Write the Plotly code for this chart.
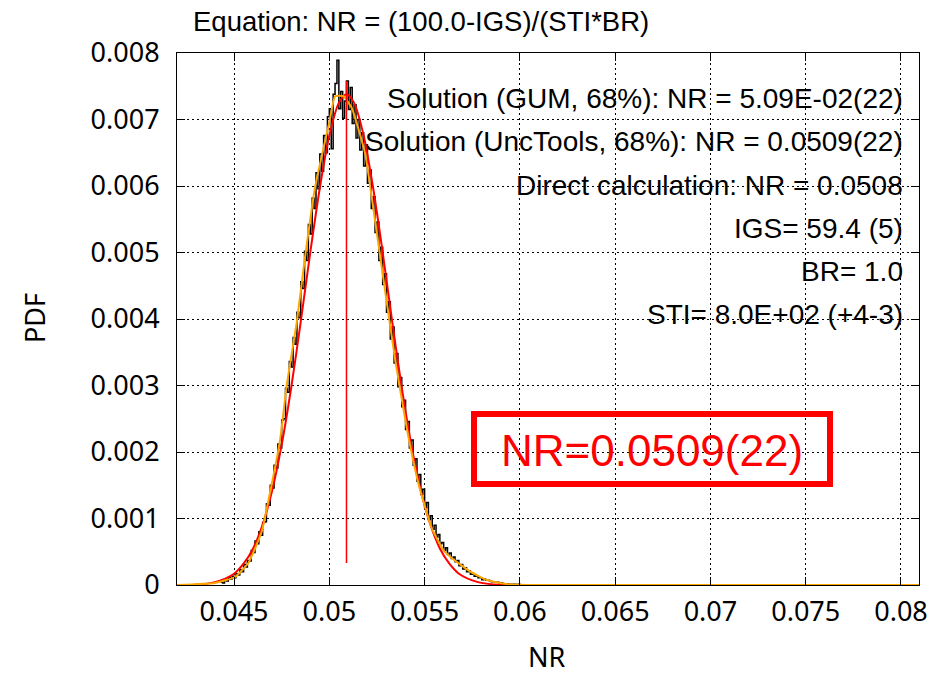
import plotly.graph_objects as go

# ---------------- data ----------------
# Monte-Carlo histogram of NR (bin centres, step 0.0001 starting at 0.0443)
NR_BIN_START = 0.0443
NR_BIN_STEP = 0.0001
MC_PDF = [
    0.00004, 0.00003, 0.00007, 0.00006, 0.00011, 0.00009, 0.00013, 0.00011, 0.00017, 0.00015,
    0.00023, 0.00020, 0.00031, 0.00027, 0.00037, 0.00036, 0.00052, 0.00049, 0.00066, 0.00062,
    0.00080, 0.00075, 0.00094, 0.00095, 0.00122, 0.00120, 0.00150, 0.00146, 0.00180, 0.00176,
    0.00212, 0.00206, 0.00248, 0.00250, 0.00296, 0.00290, 0.00336, 0.00328, 0.00372, 0.00362,
    0.00410, 0.00402, 0.00456, 0.00446, 0.00502, 0.00488, 0.00542, 0.00528, 0.00582, 0.00566,
    0.00620, 0.00596, 0.00648, 0.00622, 0.00676, 0.00650, 0.00704, 0.00716, 0.00656, 0.00738,
    0.00754, 0.00789, 0.00716, 0.00742, 0.00702, 0.00728, 0.00758, 0.00715, 0.00748, 0.00694,
    0.00722, 0.00672, 0.00700, 0.00654, 0.00680, 0.00630, 0.00662, 0.00604, 0.00624, 0.00566,
    0.00584, 0.00530, 0.00546, 0.00488, 0.00508, 0.00452, 0.00468, 0.00410, 0.00426, 0.00370,
    0.00388, 0.00334, 0.00348, 0.00298, 0.00312, 0.00268, 0.00278, 0.00234, 0.00246, 0.00206,
    0.00218, 0.00180, 0.00190, 0.00156, 0.00166, 0.00136, 0.00144, 0.00116, 0.00124, 0.00098,
    0.00104, 0.00084, 0.00090, 0.00072, 0.00076, 0.00062, 0.00064, 0.00052, 0.00056, 0.00046,
    0.00048, 0.00040, 0.00042, 0.00035, 0.00037, 0.00029, 0.00031, 0.00024, 0.00026, 0.00020,
    0.00021, 0.00016, 0.00017, 0.00013, 0.00014, 0.00011, 0.00011, 0.00008, 0.00009, 0.00007,
    0.00007, 0.00006, 0.00005, 0.00005, 0.00004, 0.00004, 0.00003, 0.00003, 0.00002, 0.00002,
    0.00002, 0.00001, 0.00001, 0.00001, 0.00001, 0.00000, 0.00001, 0.00000,
]
NR_BINS = [round(NR_BIN_START + i * NR_BIN_STEP, 4) for i in range(len(MC_PDF))]

# Fitted distribution (orange)
FIT_X = [0.0420, 0.0440, 0.04505, 0.04575, 0.04645, 0.04698, 0.04742, 0.04777, 0.04829,
         0.04873, 0.04925, 0.0500, 0.0503, 0.05074, 0.05118, 0.05188, 0.05241, 0.05293,
         0.05346, 0.05407, 0.05468, 0.05538, 0.05600, 0.05645, 0.0574, 0.05827, 0.0593,
         0.0610, 0.0810]
FIT_Y = [0.0, 0.00003, 0.00012, 0.00033, 0.00080, 0.00152, 0.00219, 0.00302, 0.00395,
         0.00494, 0.00598, 0.00696, 0.00735, 0.00735, 0.00717, 0.00649, 0.00546, 0.00442,
         0.00338, 0.00235, 0.00152, 0.00085, 0.00052, 0.00040, 0.00020, 0.000075, 0.000015,
         0.0, 0.0]

# GUM normal distribution (red)
GUM_X = [0.0420, 0.0430, 0.0440, 0.0450, 0.0455, 0.0460, 0.0465, 0.0470, 0.0475, 0.0480,
         0.0485, 0.0490, 0.0495, 0.0500, 0.0505, 0.0509, 0.0513, 0.0518, 0.0523, 0.0528,
         0.0533, 0.0538, 0.0543, 0.0548, 0.0553, 0.0558, 0.0563, 0.0568, 0.0578, 0.0590,
         0.0600, 0.0810]
GUM_Y = [0.0, 0.000002, 0.000043, 0.00017, 0.00032, 0.00055, 0.00091, 0.00142, 0.00211,
         0.00297, 0.00396, 0.00500, 0.00597, 0.00676, 0.00725, 0.00738, 0.00725, 0.00676,
         0.00597, 0.00500, 0.00396, 0.00297, 0.00211, 0.00142, 0.00091, 0.00055, 0.00032,
         0.00017, 0.000043, 0.000002, 0.0, 0.0]

# Solution marker (vertical red line)
NR_SOLUTION = 0.0509
MARK_Y = [0.00033, 0.00758]

X_TICKS = [0.045, 0.05, 0.055, 0.06, 0.065, 0.07, 0.075, 0.08]
X_TICK_TEXT = ["0.045", "0.05", "0.055", "0.06", "0.065", "0.07", "0.075", "0.08"]
Y_TICKS = [0, 0.001, 0.002, 0.003, 0.004, 0.005, 0.006, 0.007, 0.008]
Y_TICK_TEXT = ["0", "0.001", "0.002", "0.003", "0.004", "0.005", "0.006", "0.007", "0.008"]

TITLE = "Equation: NR = (100.0-IGS)/(STI*BR)"
INFO_LINES = [
    "Solution (GUM, 68%): NR = 5.09E-02(22)",
    "Solution (UncTools, 68%): NR = 0.0509(22)",
    "Direct calculation: NR = 0.0508",
    "IGS= 59.4 (5)",
    "BR= 1.0",
    "STI= 8.0E+02 (+4-3)",
]
BOX_TEXT = "NR=0.0509(22)"

# ---------------- figure ----------------
W, H = 930, 675
L, R, T, B = 177, 11, 53, 90
PW, PH = W - L - R, H - T - B


def px_x(px):
    return (px - L) / PW


def px_y(py):
    return (H - B - py) / PH


fig = go.Figure()
fig.add_trace(go.Scatter(x=NR_BINS, y=MC_PDF, mode="lines", line=dict(color="black", width=1.5, shape="hv"),
                         showlegend=False, hoverinfo="skip"))
fig.add_trace(go.Scatter(x=GUM_X, y=GUM_Y, mode="lines",
                         line=dict(color="#ff0000", width=2, shape="spline", smoothing=0.8),
                         showlegend=False))
fig.add_trace(go.Scatter(x=FIT_X, y=FIT_Y, mode="lines",
                         line=dict(color="#ffa500", width=2, shape="spline", smoothing=0.4),
                         showlegend=False))
fig.add_trace(go.Scatter(x=[NR_SOLUTION, NR_SOLUTION], y=MARK_Y, mode="lines",
                         line=dict(color="#ff0000", width=1.5), showlegend=False))

tick_font = dict(family="Noto Sans, Liberation Sans, sans-serif", size=27, color="black")
axis_common = dict(showline=True, linecolor="black", linewidth=1, mirror="ticks",
                   ticks="inside", ticklen=8, tickcolor="black", tickwidth=1,
                   showgrid=True, gridcolor="black", gridwidth=1, griddash="2px,3px",
                   zeroline=False, tickfont=tick_font)

fig.update_xaxes(range=[0.042006, 0.080945], tickmode="array", tickvals=X_TICKS,
                 ticktext=X_TICK_TEXT, ticklabelstandoff=3, **axis_common)
fig.update_yaxes(range=[0, 0.008], tickmode="array", tickvals=Y_TICKS,
                 ticktext=Y_TICK_TEXT, ticklabelstandoff=11, **axis_common)

txt_font = dict(family="Liberation Sans, Arial, sans-serif", size=28, color="black")
annotations = [
    dict(text=TITLE, xref="paper", yref="paper", x=px_x(421), y=px_y(22),
         xanchor="center", yanchor="middle", showarrow=False, font=dict(txt_font, size=27.5)),
    dict(text="NR", xref="paper", yref="paper", x=px_x(547), y=px_y(656),
         xanchor="center", yanchor="middle", showarrow=False, font=tick_font),
    dict(text="PDF", xref="paper", yref="paper", x=px_x(34), y=px_y(318), textangle=-90,
         xanchor="center", yanchor="middle", showarrow=False, font=tick_font),
]
line_y = [99, 142, 185, 228, 271, 314]
for txt, yc in zip(INFO_LINES, line_y):
    annotations.append(dict(text=txt, xref="paper", yref="paper", x=px_x(905), y=px_y(yc),
                            xanchor="right", yanchor="middle", showarrow=False, font=txt_font))
annotations.append(dict(text=BOX_TEXT, xref="paper", yref="paper", x=px_x(652), y=px_y(450),
                        xanchor="center", yanchor="middle", showarrow=False,
                        font=dict(family="Liberation Sans, Arial, sans-serif", size=44, color="#ff0000")))

fig.add_shape(type="rect", xref="paper", yref="paper", x0=px_x(474), x1=px_x(830),
              y0=px_y(484), y1=px_y(414), line=dict(color="#ff0000", width=6),
              fillcolor="rgba(0,0,0,0)")

fig.update_layout(width=W, height=H, margin=dict(l=L, r=R, t=T, b=B, autoexpand=False),
                  plot_bgcolor="white", paper_bgcolor="white", annotations=annotations,
                  showlegend=False)

fig.write_html("out.html", config={"displayModeBar": False},
               post_script="document.body.style.margin='0px';document.body.style.overflow='hidden';")
